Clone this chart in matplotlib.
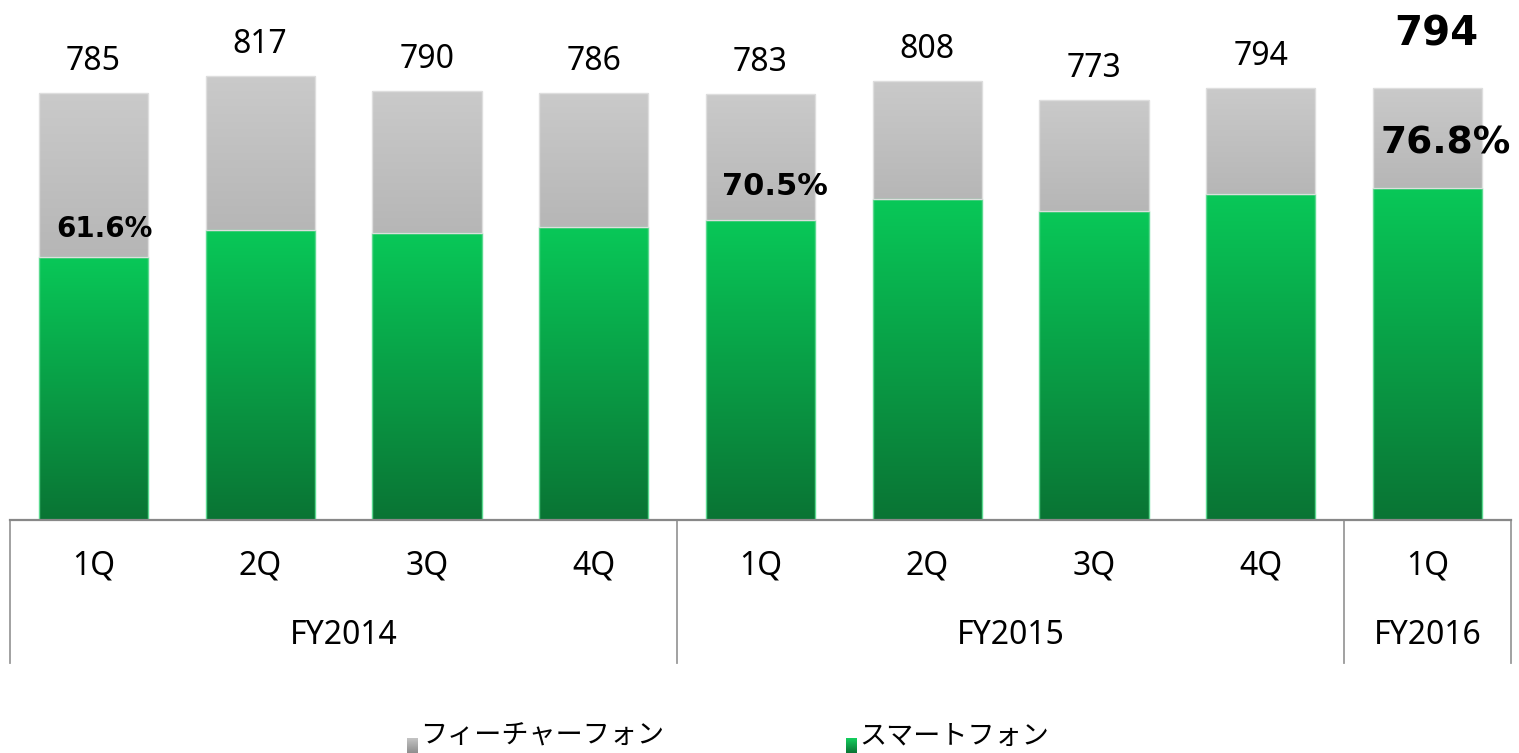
import numpy as np
import matplotlib
matplotlib.use("Agg")
import matplotlib.pyplot as plt
from matplotlib.colors import LinearSegmentedColormap
import matplotlib.transforms as mtransforms

plt.rcParams['font.family'] = ['Noto Sans', 'DejaVu Sans', 'Noto Sans CJK JP']

# ---- data ----
quarters = ['1Q', '2Q', '3Q', '4Q', '1Q', '2Q', '3Q', '4Q', '1Q']
fiscal_years = ['FY2014', 'FY2015', 'FY2016']
fy_counts = [4, 4, 1]
totals = [785, 817, 790, 786, 783, 808, 773, 794, 794]
smartphone = [484, 533, 528, 540, 552, 590, 569, 600, 610]
feature = [t - s for t, s in zip(totals, smartphone)]
series_names = ['フィーチャーフォン', 'スマートフォン']
share_labels = {0: '61.6%', 4: '70.5%', 8: '76.8%'}

W, H = 1519, 753
fig = plt.figure(figsize=(W / 100, H / 100), dpi=100)
ax_left, ax_right = 10, 1511
base_px = 520
ax = fig.add_axes([ax_left / W, (H - base_px) / H, (ax_right - ax_left) / W, base_px / H])
ax.set_axis_off()

n = len(totals)
x = np.arange(n)
px_per_unit = 0.5435

green_cols = ('#08C858', '#0A7434')
grey_cols = ('#CACACA', '#B6B6B6')

def gradient_fill(rect, c_top, c_bot, edge):
    x0, y0 = rect.get_x(), rect.get_y()
    w, h = rect.get_width(), rect.get_height()
    cmap = LinearSegmentedColormap.from_list('g', [c_bot, c_top])
    grad = np.linspace(0, 1, 256).reshape(-1, 1)
    im = ax.imshow(grad, extent=[x0, x0 + w, y0, y0 + h], origin='lower',
                   cmap=cmap, aspect='auto', zorder=2, interpolation='bilinear')
    im.set_clip_path(rect)
    rect.set_facecolor('none')
    rect.set_edgecolor(edge)
    rect.set_linewidth(1.0)
    rect.set_zorder(3)

bw = 0.655
b_s = ax.bar(x, smartphone, width=bw, label=series_names[1])
b_f = ax.bar(x, feature, bottom=smartphone, width=bw, label=series_names[0])
for r in b_s:
    gradient_fill(r, *green_cols, edge='#5BD98F')
for r in b_f:
    gradient_fill(r, *grey_cols, edge='#DEDEDE')
ax.set_xlim(-0.5, n - 0.5)
ax.set_ylim(0, base_px / px_per_unit)

# total labels
for i, t in enumerate(totals):
    if i == n - 1:
        ax.text(i + 0.05, t + 100, f'{t}', ha='center', va='center',
                fontsize=29, fontweight='bold', color='black', family=['DejaVu Sans'])
    else:
        ax.text(i, t + 58, f'{t}', ha='center', va='center', fontsize=23, color='black')

# share labels
share_style = {0: (0.064, 51, 20), 4: (0.087, 62, 22), 8: (0.11, 82, 27)}
for i, lab in share_labels.items():
    dx, dy, fs = share_style[i]
    ax.text(i + dx, smartphone[i] + dy, lab, ha='center', va='center',
            fontsize=fs, fontweight='bold', color='black', zorder=5,
            family=['DejaVu Sans'])

# baseline
ax.plot([-0.5, n - 0.5], [0, 0], color='#888888', lw=1.6, clip_on=False, zorder=4)

# category table
trans = mtransforms.blended_transform_factory(ax.transData, fig.transFigure)
def fy(ypx):
    return 1 - ypx / H

for i, q in enumerate(quarters):
    ax.text(i, fy(566), q, transform=trans, ha='center', va='center', fontsize=23)

start = 0
bounds = [-0.5]
for name, c in zip(fiscal_years, fy_counts):
    centre = start + (c - 1) / 2
    ax.text(centre, fy(636), name, transform=trans, ha='center', va='center', fontsize=23)
    start += c
    bounds.append(start - 0.5)
for b in bounds:
    ax.plot([b, b], [fy(520), fy(663)], transform=trans, color='#9A9A9A', lw=1.3, clip_on=False)

# legend (manual)
leg_items = [(series_names[0], 407, ('#C4C4C4', '#8E8E8E')),
             (series_names[1], 846, ('#14CF5E', '#0A7434'))]
for name, xpx, (ct, cb) in leg_items:
    cmap = LinearSegmentedColormap.from_list('l', [cb, ct])
    lax = fig.add_axes([xpx / W, 0, 11 / W, 15 / H])
    lax.imshow(np.linspace(0, 1, 64).reshape(-1, 1), origin='lower', cmap=cmap, aspect='auto')
    lax.set_axis_off()
    fig.text((xpx + 13) / W, fy(736), name, ha='left', va='center', fontsize=19.5,
             family=['Noto Sans CJK JP', 'DejaVu Sans'])

fig.savefig('out.png', dpi=100, facecolor='white')
